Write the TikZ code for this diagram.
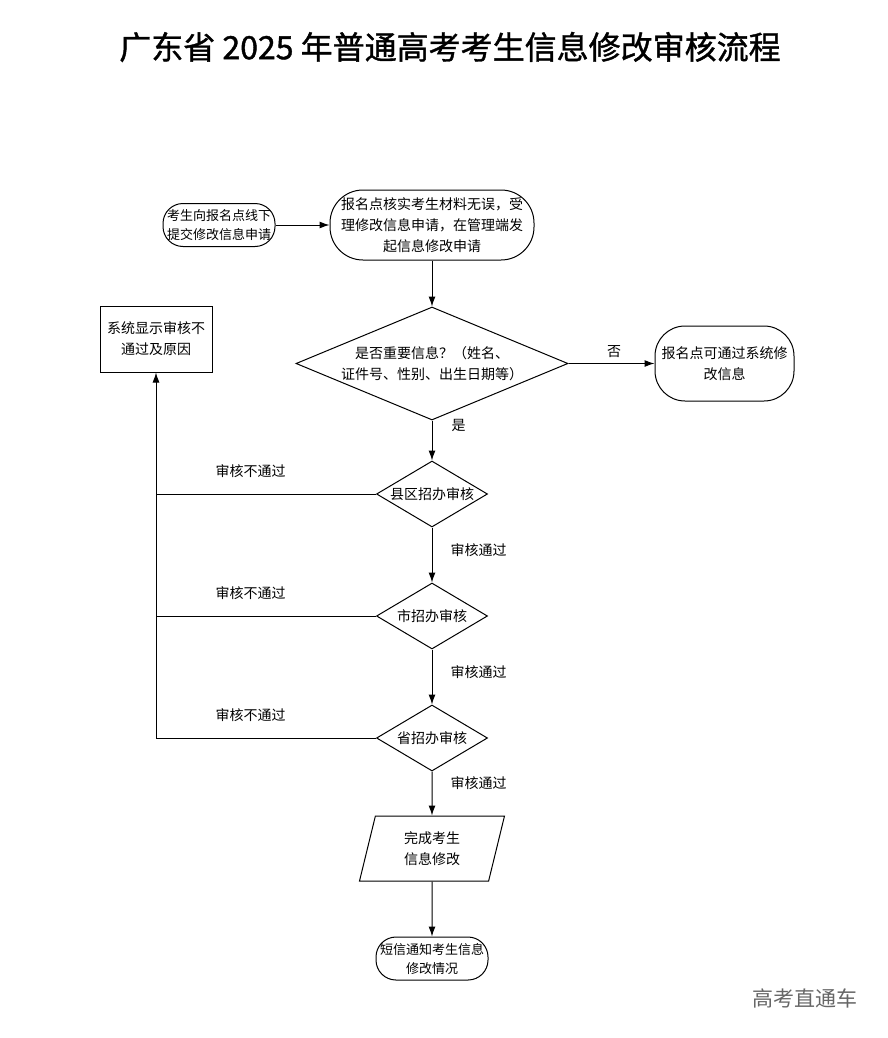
\documentclass[tikz,border=0pt]{standalone}
\usepackage{fontspec}
\setmainfont{Noto Sans CJK SC}
\newfontfamily\titlefont[FakeBold=1.2]{Noto Sans CJK SC}
\usetikzlibrary{positioning,arrows.meta,shapes.geometric}

\begin{document}
\begin{tikzpicture}[
  x=1pt,y=-1pt,
  every node/.style={font=\fontsize{14}{21}\selectfont,align=center,inner sep=0pt},
  pill/.style={rectangle,draw,rounded corners=#1},
  small/.style={font=\fontsize{13}{19}\selectfont},
  box/.style={rectangle,draw,minimum width=112pt,minimum height=66pt},
  bigcheck/.style={diamond,draw,aspect=2.4,inner sep=-4pt,minimum width=272pt,minimum height=113pt},
  check/.style={diamond,draw,aspect=1.68,inner sep=-4pt,minimum width=111pt,minimum height=66pt},
  io/.style={trapezium,draw,trapezium left angle=65,trapezium right angle=115,
    trapezium stretches body=true,minimum width=145pt,minimum height=65pt},
  line width=1pt,
  ->,>={Latex[length=10pt,width=7pt]}
]
  \useasboundingbox (0,0) rectangle (887,1038);

  % Title
  \node (title) at (450,47) {\fontsize{32}{40}\titlefont 广东省 2025 年普通高考考生信息修改审核流程};

  % Application
  \node [pill=20pt,small,minimum width=112pt,minimum height=43pt] (apply) at (219,225) {考生向报名点线下\\提交修改信息申请};
  \node [pill=33pt,minimum width=204pt,minimum height=70pt,right=54pt of apply] (accept) {报名点核实考生材料无误，受\\理修改信息申请，在管理端发\\起信息修改申请};

  % Check
  \node [bigcheck,below=46pt of accept] (major) {是否重要信息？（姓名、\\证件号、性别、出生日期等）};
  \node [pill=30pt,minimum width=139pt,minimum height=75pt,right=86pt of major] (self) {报名点可通过系统修\\改信息};

  \node [check,below=40pt of major] (county) {县区招办审核};
  \node [check,below=55pt of county] (city) {市招办审核};
  \node [check,below=55pt of city] (prov) {省招办审核};
  \node [io,below=44pt of prov] (done) {完成考生\\信息修改};
  \node [pill=20pt,small,minimum width=112pt,minimum height=43pt,below=55pt of done] (sms) {短信通知考生信息\\修改情况};

  \node [box] (fail) at (156,339) {系统显示审核不\\通过及原因};

  % Connectors
  \draw (apply) -- (accept);
  \draw (accept) -- (major);
  \draw (major) -- node [above=5pt,pos=0.53] {否} (self);
  \draw (major) -- node [right=19pt,pos=0.12] {是} (county);
  \draw (county) -- node [right=18pt,pos=0.41] {审核通过} (city);
  \draw (city) -- node [right=18pt,pos=0.42] {审核通过} (prov);
  \draw (prov) -- node [right=18pt,pos=0.27] {审核通过} (done);
  \draw (done) -- (sms);

  \draw [-] (county.west) -- node [above=16pt,pos=0.57] {审核不通过} (county.west -| fail.south);
  \draw [-] (city.west) -- node [above=16pt,pos=0.57] {审核不通过} (city.west -| fail.south);
  \draw (prov.west) -- node [above=16pt,pos=0.57] {审核不通过} (prov.west -| fail.south) -- (fail.south);

  % Watermark
  \node [font=\fontsize{21}{25}\selectfont,text=black!60] (mark) at (805,998) {高考直通车};
\end{tikzpicture}
\end{document}
